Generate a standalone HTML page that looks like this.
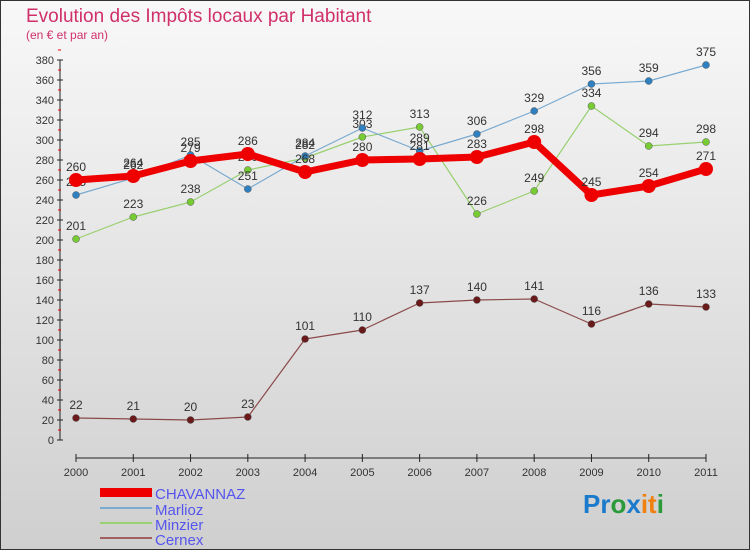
<!DOCTYPE html>
<html><head><meta charset="utf-8"><style>
body{margin:0}
svg text{font-family:"Liberation Sans",sans-serif}
</style></head><body>
<svg id="c" width="750" height="550" xmlns="http://www.w3.org/2000/svg">
<defs><linearGradient id="bg" x1="0" y1="0" x2="0" y2="1"><stop offset="0" stop-color="#f8f8f8"/><stop offset="1" stop-color="#cfcfcf"/></linearGradient></defs>
<rect x="0.5" y="0.5" width="749" height="549" fill="url(#bg)" stroke="#333"/>
<text x="26" y="22" font-size="19" fill="#d0306a">Evolution des Impôts locaux par Habitant</text>
<text x="26" y="39" font-size="12" fill="#d0306a">(en € et par an)</text>
<g id="axes"></g><g id="series"></g>
<g>
<rect x="100" y="488" width="52" height="9" fill="#e00"/>
<text x="155" y="499" font-size="15" fill="#5555ee">CHAVANNAZ</text>
<line x1="100" y1="508" x2="152" y2="508" stroke="#7aaad0" stroke-width="2"/>
<text x="155" y="515" font-size="15" fill="#5555ee">Marlioz</text>
<line x1="100" y1="523" x2="152" y2="523" stroke="#99d070" stroke-width="2"/>
<text x="155" y="530" font-size="15" fill="#5555ee">Minzier</text>
<line x1="100" y1="538" x2="152" y2="538" stroke="#a06060" stroke-width="2"/>
<text x="155" y="545" font-size="15" fill="#5555ee">Cernex</text>
</g>
<text x="583" y="513" font-size="26" font-weight="bold"><tspan fill="#1a7acc">Pr</tspan><tspan fill="#2a9a3a">o</tspan><tspan fill="#1a7acc">x</tspan><tspan fill="#f08010">it</tspan><tspan fill="#2a9a3a">i</tspan></text>
</svg>
<script>
const years=[2000,2001,2002,2003,2004,2005,2006,2007,2008,2009,2010,2011];
const chavannaz=[260,264,279,286,268,280,281,283,298,245,254,271];
const marlioz=[245,262,285,251,284,312,289,306,329,356,359,375];
const minzier=[201,223,238,270,282,303,313,226,249,334,294,298];
const cernex=[22,21,20,23,101,110,137,140,141,116,136,133];
const yTicks=[0,20,40,60,80,100,120,140,160,180,200,220,240,260,280,300,320,340,360,380];
const NS="http://www.w3.org/2000/svg";
const x=i=>76+i*(630/11), y=v=>440-v*(380/380);
function mk(t,a,p){const e=document.createElementNS(NS,t);for(const k in a)e.setAttribute(k,a[k]);p.appendChild(e);return e;}
const ax=document.getElementById('axes');
const yl=mk('line',{x1:60,y1:y(0),x2:60,y2:y(380),stroke:'#222'},ax);


yTicks.forEach(v=>{
 mk('line',{x1:57,y1:y(v),x2:63,y2:y(v),stroke:'#222'},ax);
 mk('line',{x1:58,y1:y(v)-10,x2:61,y2:y(v)-10,stroke:'#e00'},ax);
 const t=mk('text',{x:54,y:y(v)+4,'font-size':11,'text-anchor':'end',fill:'#333'},ax);t.textContent=v;
 
 
});
const xl=mk('line',{x1:76,y1:458,x2:706,y2:458,stroke:'#222'},ax);


years.forEach((yr,i)=>{
 mk('line',{x1:x(i),y1:454,x2:x(i),y2:462,stroke:'#222'},ax);
 const t=mk('text',{x:x(i),y:476,'font-size':11,'text-anchor':'middle',fill:'#333'},ax);t.textContent=yr;
 
 
});
const sg=document.getElementById('series');
function series(vals,name,color,w,r,dot,lbl){
 const g=mk('g',{},sg);
 
 
 mk('polyline',{points:vals.map((v,i)=>x(i)+','+y(v)).join(' '),fill:'none',stroke:color,'stroke-width':w,'stroke-linejoin':'round'},g);
 vals.forEach((v,i)=>{
  const c=mk('circle',{cx:x(i),cy:y(v),r:r,fill:dot,stroke:w>3?'none':'#555','stroke-width':0.5},g);
  
  
  const t=mk('text',{x:x(i),y:y(v)-9,'font-size':12,'text-anchor':'middle',fill:lbl},g);t.textContent=v;
  
  
 });
}
series(cernex,'cernex','#8b4a4a',1.2,3.5,'#6a1a1a','#333');
series(minzier,'minzier','#99d070',1.2,3.5,'#77cc33','#333');
series(marlioz,'marlioz','#7aaad0',1.2,3.5,'#2f80c0','#333');
series(chavannaz,'chavannaz','#ee0000',7,7,'#ee0000','#333');
</script>
</body></html>
